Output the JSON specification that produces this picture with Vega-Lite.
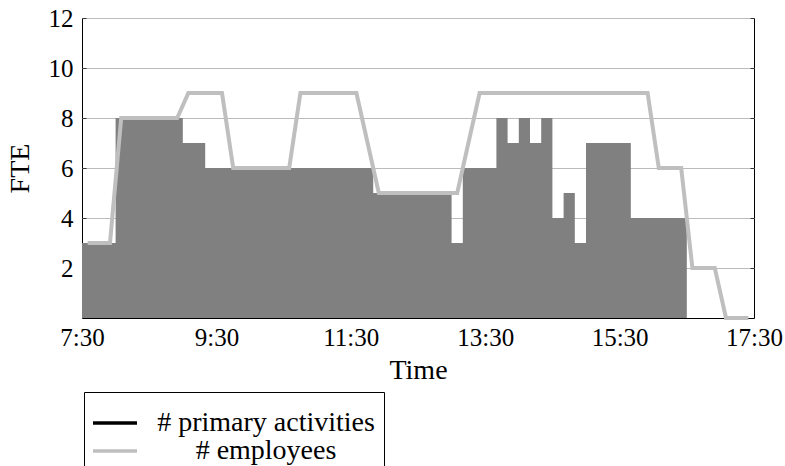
{
  "$schema": "https://vega.github.io/schema/vega-lite/v6.json",
  "width": 672,
  "height": 300,
  "autosize": {"type": "none"},
  "padding": {"left": 82, "top": 18, "right": 31, "bottom": 148},
  "background": "white",
  "config": {
    "font": "Liberation Serif",
    "view": {"stroke": "black", "strokeWidth": 1},
    "axis": {"labelFont": "Liberation Serif", "titleFont": "Liberation Serif", "labelColor": "black", "titleColor": "black", "titleFontWeight": "normal"},
    "legend": {"labelFont": "Liberation Serif", "titleFont": "Liberation Serif"}
  },
  "datasets": {
    "activities": [
      {"minute": 450, "fte": 3, "series": "# primary activities"},
      {"minute": 480, "fte": 8, "series": "# primary activities"},
      {"minute": 540, "fte": 7, "series": "# primary activities"},
      {"minute": 560, "fte": 6, "series": "# primary activities"},
      {"minute": 710, "fte": 5, "series": "# primary activities"},
      {"minute": 780, "fte": 3, "series": "# primary activities"},
      {"minute": 790, "fte": 6, "series": "# primary activities"},
      {"minute": 820, "fte": 8, "series": "# primary activities"},
      {"minute": 830, "fte": 7, "series": "# primary activities"},
      {"minute": 840, "fte": 8, "series": "# primary activities"},
      {"minute": 850, "fte": 7, "series": "# primary activities"},
      {"minute": 860, "fte": 8, "series": "# primary activities"},
      {"minute": 870, "fte": 4, "series": "# primary activities"},
      {"minute": 880, "fte": 5, "series": "# primary activities"},
      {"minute": 890, "fte": 3, "series": "# primary activities"},
      {"minute": 900, "fte": 7, "series": "# primary activities"},
      {"minute": 940, "fte": 4, "series": "# primary activities"},
      {"minute": 990, "fte": 0, "series": "# primary activities"}
    ],
    "employees": [
      {"minute": 455, "fte": 3, "series": "# employees"},
      {"minute": 465, "fte": 3, "series": "# employees"},
      {"minute": 475, "fte": 3, "series": "# employees"},
      {"minute": 485, "fte": 8, "series": "# employees"},
      {"minute": 495, "fte": 8, "series": "# employees"},
      {"minute": 505, "fte": 8, "series": "# employees"},
      {"minute": 515, "fte": 8, "series": "# employees"},
      {"minute": 525, "fte": 8, "series": "# employees"},
      {"minute": 535, "fte": 8, "series": "# employees"},
      {"minute": 545, "fte": 9, "series": "# employees"},
      {"minute": 555, "fte": 9, "series": "# employees"},
      {"minute": 565, "fte": 9, "series": "# employees"},
      {"minute": 575, "fte": 9, "series": "# employees"},
      {"minute": 585, "fte": 6, "series": "# employees"},
      {"minute": 595, "fte": 6, "series": "# employees"},
      {"minute": 605, "fte": 6, "series": "# employees"},
      {"minute": 615, "fte": 6, "series": "# employees"},
      {"minute": 625, "fte": 6, "series": "# employees"},
      {"minute": 635, "fte": 6, "series": "# employees"},
      {"minute": 645, "fte": 9, "series": "# employees"},
      {"minute": 655, "fte": 9, "series": "# employees"},
      {"minute": 665, "fte": 9, "series": "# employees"},
      {"minute": 675, "fte": 9, "series": "# employees"},
      {"minute": 685, "fte": 9, "series": "# employees"},
      {"minute": 695, "fte": 9, "series": "# employees"},
      {"minute": 715, "fte": 5, "series": "# employees"},
      {"minute": 725, "fte": 5, "series": "# employees"},
      {"minute": 735, "fte": 5, "series": "# employees"},
      {"minute": 745, "fte": 5, "series": "# employees"},
      {"minute": 755, "fte": 5, "series": "# employees"},
      {"minute": 765, "fte": 5, "series": "# employees"},
      {"minute": 775, "fte": 5, "series": "# employees"},
      {"minute": 785, "fte": 5, "series": "# employees"},
      {"minute": 805, "fte": 9, "series": "# employees"},
      {"minute": 815, "fte": 9, "series": "# employees"},
      {"minute": 825, "fte": 9, "series": "# employees"},
      {"minute": 835, "fte": 9, "series": "# employees"},
      {"minute": 845, "fte": 9, "series": "# employees"},
      {"minute": 855, "fte": 9, "series": "# employees"},
      {"minute": 865, "fte": 9, "series": "# employees"},
      {"minute": 875, "fte": 9, "series": "# employees"},
      {"minute": 885, "fte": 9, "series": "# employees"},
      {"minute": 895, "fte": 9, "series": "# employees"},
      {"minute": 905, "fte": 9, "series": "# employees"},
      {"minute": 915, "fte": 9, "series": "# employees"},
      {"minute": 925, "fte": 9, "series": "# employees"},
      {"minute": 935, "fte": 9, "series": "# employees"},
      {"minute": 945, "fte": 9, "series": "# employees"},
      {"minute": 955, "fte": 9, "series": "# employees"},
      {"minute": 965, "fte": 6, "series": "# employees"},
      {"minute": 975, "fte": 6, "series": "# employees"},
      {"minute": 985, "fte": 6, "series": "# employees"},
      {"minute": 995, "fte": 2, "series": "# employees"},
      {"minute": 1005, "fte": 2, "series": "# employees"},
      {"minute": 1015, "fte": 2, "series": "# employees"},
      {"minute": 1025, "fte": 0, "series": "# employees"},
      {"minute": 1035, "fte": 0, "series": "# employees"},
      {"minute": 1045, "fte": 0, "series": "# employees"}
    ]
  },
  "encoding": {
    "x": {
      "field": "minute", "type": "quantitative",
      "scale": {"domain": [450, 1050], "nice": false, "zero": false},
      "axis": {
        "title": "Time", "values": [450, 570, 690, 810, 930, 1050],
        "labelExpr": "floor(datum.value / 60) + ':' + (datum.value % 60 < 10 ? '0' : '') + (datum.value % 60)",
        "grid": false, "domain": false, "ticks": false,
        "labelFontSize": 25, "labelPadding": 7, "labelFlush": false,
        "titleFontSize": 28, "titleX": 336, "titleY": 60, "titleBaseline": "alphabetic"
      }
    },
    "stroke": {
      "field": "series", "type": "nominal",
      "scale": {"domain": ["# primary activities", "# employees"], "range": ["black", "#bfbfbf"]},
      "legend": {
        "title": " ", "titleFontSize": 8, "titlePadding": 0,
        "orient": "none", "legendX": 2, "legendY": 374,
        "strokeColor": "black", "padding": 9, "fillColor": "white",
        "symbolType": "M-2,0H2", "symbolSize": 484, "symbolStrokeWidth": 3.5, "symbolOffset": 8,
        "labelFontSize": 28, "labelColor": "black", "labelAlign": "center", "labelOffset": 137,
        "labelLimit": 500, "rowPadding": -6
      }
    }
  },
  "layer": [
    {
      "data": {"name": "activities"},
      "mark": {"type": "area", "interpolate": "step-after", "fill": "#808080", "strokeWidth": 0, "fillOpacity": 1},
      "encoding": {
        "y": {
          "field": "fte", "type": "quantitative",
          "scale": {"domain": [0, 12], "nice": false},
          "axis": {
            "orient": "left",
            "title": "FTE", "values": [2, 4, 6, 8, 10, 12],
            "grid": true, "gridColor": "#bbbbbb", "gridWidth": 1,
            "domain": false, "ticks": true, "tickSize": -4, "tickColor": "#333333", "tickWidth": 1,
            "labelFontSize": 25, "labelPadding": 13, "labelFlush": false,
            "titleFontSize": 28, "titleX": -62, "titleY": 150, "titleBaseline": "middle", "titleAngle": -90
          }
        }
      }
    },
    {
      "data": {"name": "employees"},
      "mark": {"type": "line", "strokeWidth": 4, "strokeJoin": "miter", "clip": false},
      "encoding": {
        "y": {
          "field": "fte", "type": "quantitative",
          "axis": {
            "orient": "right", "title": null, "labels": false, "values": [2, 4, 6, 8, 10, 12],
            "grid": false, "domain": false, "ticks": true, "tickSize": -4, "tickColor": "#333333", "tickWidth": 1
          }
        }
      }
    }
  ],
  "resolve": {"axis": {"y": "independent"}}
}
